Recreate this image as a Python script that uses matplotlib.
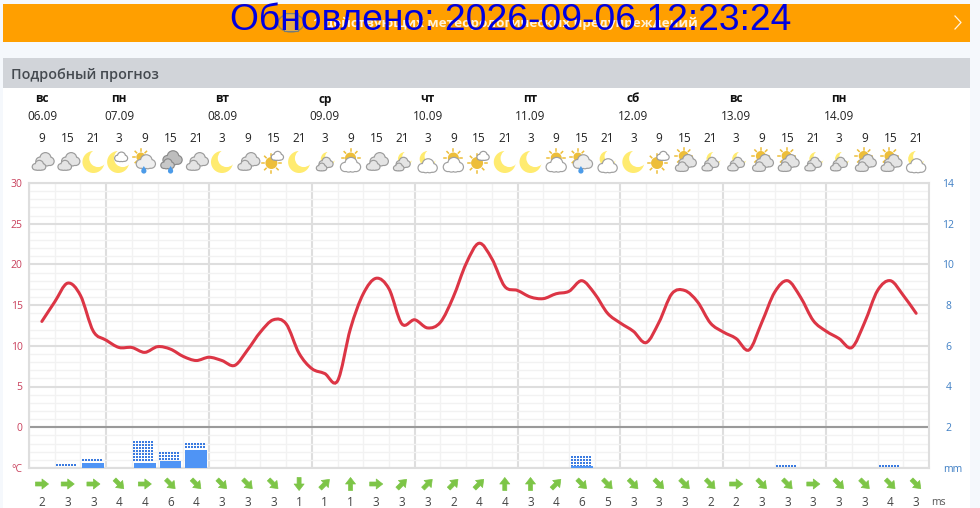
import matplotlib
matplotlib.use("Agg")
import matplotlib.pyplot as plt
import numpy as np
from matplotlib.patches import Circle, Rectangle, Polygon, PathPatch, Ellipse
from matplotlib.path import Path

# temperature every 3 hours, starting at 9h on 06.09
temps = [13.0, 15.4, 17.7, 16.2, 11.8, 10.7, 9.8, 9.8, 9.2, 9.9, 9.6, 8.7, 8.2, 8.6, 8.2, 7.6, 9.5, 11.7,
         13.2, 12.7, 9.1, 7.2, 6.6, 5.7, 12.1, 16.4, 18.3, 17.0, 12.7, 13.2, 12.2, 12.9, 16.0, 20.1, 22.6,
         20.7, 17.3, 16.8, 16.0, 15.8, 16.4, 16.7, 18.0, 16.4, 14.0, 12.8, 11.8, 10.4, 12.9, 16.4, 16.8,
         15.4, 12.8, 11.7, 10.9, 9.5, 12.9, 16.6, 18.0, 16.0, 13.1, 11.8, 10.9, 9.8, 12.9, 16.8, 18.0,
         16.2, 14.0]

hours = [9, 15, 21, 3, 9, 15, 21, 3, 9, 15, 21, 3, 9, 15, 21, 3, 9, 15, 21, 3, 9, 15, 21, 3, 9, 15, 21, 3, 9,
         15, 21, 3, 9, 15, 21]
wind_speed = [2, 3, 3, 4, 4, 6, 4, 3, 3, 3, 1, 1, 1, 3, 3, 3, 2, 4, 4, 3, 4, 6, 5, 3, 3, 3, 2, 2, 3, 3, 3, 3, 3, 4, 3]
wind_dir = ['E', 'E', 'E', 'SE', 'E', 'SE', 'SE', 'SE', 'SE', 'SE', 'S', 'NE', 'N', 'E', 'NE', 'NE', 'NE', 'NE',
            'N', 'N', 'NE', 'SE', 'SE', 'SE', 'SE', 'SE', 'SE', 'E', 'SE', 'SE', 'E', 'SE', 'SE', 'SE', 'SE']
icons = ['cloudy', 'cloudy', 'moon', 'moon_small', 'sun_rain', 'dark_rain', 'cloudy', 'moon', 'cloudy', 'sun_small',
         'moon', 'moon_clouds', 'sun_cloud', 'cloudy', 'moon_clouds', 'moon_cloud', 'sun_cloud', 'sun_small',
         'moon', 'moon', 'sun_cloud', 'sun_rain', 'moon_cloud', 'moon', 'sun_small', 'sun_clouds', 'moon_clouds',
         'moon_clouds', 'sun_clouds', 'sun_clouds', 'moon_clouds', 'moon_clouds', 'sun_clouds', 'sun_clouds',
         'moon_cloud']

day_names = ['вс', 'пн', 'вт', 'ср', 'чт', 'пт', 'сб', 'вс', 'пн']
day_dates = ['06.09', '07.09', '08.09', '09.09', '10.09', '11.09', '12.09', '13.09', '14.09']
day_index = [0, 3, 7, 11, 15, 19, 23, 27, 31]

# precipitation, by 6h slot
rain_index = [1, 2, 4, 5, 6, 21, 29, 33]
rain_solid = [0.0, 0.25, 0.25, 0.33, 0.88, 0.08, 0.0, 0.0]
rain_dotted = [0.15, 0.4, 1.3, 0.72, 1.17, 0.55, 0.1, 0.1]

left_ticks = [30, 25, 20, 15, 10, 5, 0]
right_ticks = [14, 12, 10, 8, 6, 4, 2]

X0 = 42
STEP = 25.71
CRIMSON = '#C9405C'
BLUE = '#3F7FC4'
GRID = '#DEDEDE'
MINOR = '#F2F2F2'
ARROW = {'E': 0, 'NE': 45, 'N': 90, 'S': -90, 'SE': -45}

plt.rcParams['font.family'] = ['Open Sans', 'DejaVu Sans']
fig = plt.figure(figsize=(9.8, 5.08), dpi=100, facecolor='#F5F8FC')

# page furniture, in pixels
bg = fig.add_axes([0, 0, 1, 1], zorder=0)
bg.set_xlim(0, 980)
bg.set_ylim(508, 0)
bg.axis('off')
bg.add_patch(Rectangle((3, 88), 967, 420, fc='white', ec='none'))
bg.add_patch(Rectangle((3, 4), 967, 38, fc='#FF9F00', ec='none'))
bg.add_patch(Rectangle((3, 58), 967, 30, fc='#D1D4D9', ec='none'))
bg.text(11, 74.5, 'Подробный прогноз', fontsize=10.4, fontweight='semibold', color='#454A50', va='center')

# chart
ax = fig.add_axes([29 / 980, 1 - 468 / 508, 900 / 980, 285 / 508], zorder=1)
ax.patch.set_alpha(0)
ax.set_xlim(-0.5, 34.5)
ax.set_ylim(-5, 30)
ax.set_xticks(np.arange(2.5, 34, 4))
ax.set_xticks(np.arange(-0.5, 34.5, 1), minor=True)
ax.set_yticks(np.arange(-5, 31, 5))
ax.set_yticks(np.arange(-5, 31, 1), minor=True)
ax.grid(which='minor', color=MINOR, lw=1)
ax.grid(which='major', color=GRID, lw=1.5)
ax.set_axisbelow(True)
ax.tick_params(which='both', length=0, labelbottom=False, labelleft=False)
for s in ax.spines.values():
    s.set_color(GRID)
    s.set_linewidth(1.5)
ax.axhline(0, color='#9A9A9A', lw=1.5, zorder=1.5)

for t in left_ticks:
    ax.annotate(str(t), (0, t), xycoords=ax.get_yaxis_transform(), xytext=(-4.5, -1), textcoords='offset points',
                ha='right', va='center', fontsize=7.5, color=CRIMSON)
ax.annotate('°C', (0, -5), xycoords=ax.get_yaxis_transform(), xytext=(-4.5, -1), textcoords='offset points',
            ha='right', va='center', fontsize=7.5, color=CRIMSON)

# precipitation on the right scale
ax2 = ax.twinx()
ax2.set_ylim(0, 14)
ax2.set_yticks([])
for s in ax2.spines.values():
    s.set_visible(False)
ax2.bar(rain_index, rain_solid, width=0.85, color='#4F94F5', lw=0, zorder=3)
dot_dx = 3 / STEP
dot_dy = 3 / (285 / 14)
for i, low, high in zip(rain_index, rain_solid, rain_dotted):
    gx = np.arange(i - 0.4, i + 0.41, dot_dx)
    gy = np.arange(high, low + 0.02, -dot_dy)
    mx, my = np.meshgrid(gx, gy)
    ax2.scatter(mx.ravel(), my.ravel(), s=0.6, marker='s', color='#3B7BE0', lw=0, zorder=2)
for t in right_ticks:
    ax2.annotate(str(t), (1, t), xycoords=ax2.get_yaxis_transform(), xytext=(14, -1), textcoords='offset points',
                 ha='center', va='center', fontsize=7.5, color=BLUE)
ax2.annotate('mm', (1, 0), xycoords=ax2.get_yaxis_transform(), xytext=(17, -1), textcoords='offset points',
             ha='center', va='center', fontsize=7.5, color=BLUE)

# smooth temperature curve through the readings
tx = np.arange(len(temps)) / 2
ty = np.array(temps)
slopes = np.gradient(ty, tx)
verts = [(tx[0], ty[0])]
codes = [Path.MOVETO]
for i in range(len(tx) - 1):
    h = (tx[i + 1] - tx[i]) / 3
    verts += [(tx[i] + h, ty[i] + slopes[i] * h), (tx[i + 1] - h, ty[i + 1] - slopes[i + 1] * h), (tx[i + 1], ty[i + 1])]
    codes += [Path.CURVE4] * 3
ax2.add_patch(PathPatch(Path(verts, codes), transform=ax.transData, fc='none', ec='#DC3545', lw=2.2, capstyle='round', zorder=5))

# overlay for the rows above and below the chart
top = fig.add_axes([0, 0, 1, 1], zorder=3)
top.set_xlim(0, 980)
top.set_ylim(508, 0)
top.axis('off')
top.patch.set_alpha(0)


def cloud(cx, cy, s, fc='#F1F1F1', ec='#A0A0A0', z=5):
    parts = [(-5.5, 2.0, 4.0), (0.5, -1.5, 5.5), (5.5, 2.0, 4.0), (-2, 2.5, 4.0), (2, 2.5, 4.0)]
    for lay, col in ((1.2, ec), (0, fc)):
        for dx, dy, r in parts:
            top.add_patch(Circle((cx + dx * s, cy + dy * s), r * s + lay, fc=col, ec='none', zorder=z + (lay == 0) * 0.5))


def clouds(cx, cy, s=1.0, fc='#E4E4E4', ec='#9C9C9C'):
    cloud(cx + 3 * s, cy - 2.5 * s, 0.9 * s, fc, ec, 5)
    cloud(cx - 3 * s, cy + 3.5 * s, 0.65 * s, fc, ec, 6)


def moon(cx, cy, r, z=4):
    top.add_patch(Circle((cx, cy), r, fc='#FFEB70', ec='none', zorder=z))
    top.add_patch(Circle((cx + r * 0.42, cy - r * 0.34), r * 0.8, fc='white', ec='none', zorder=z + 0.1))


def sun(cx, cy, r, z=4):
    for a in np.arange(0, 360, 45):
        d = np.radians(a)
        top.plot([cx + (r + 1.5) * np.cos(d), cx + (r + 3.5) * np.cos(d)],
                 [cy + (r + 1.5) * np.sin(d), cy + (r + 3.5) * np.sin(d)], color='#EDBE3A', lw=1.1, zorder=z)
    top.add_patch(Circle((cx, cy), r, fc='#EDBE3A', ec='none', zorder=z))


def drop(cx, cy):
    top.add_patch(Circle((cx, cy + 1), 2.6, fc='#4C9BE8', ec='none', zorder=8))
    top.add_patch(Polygon([(cx - 2.4, cy), (cx + 2.4, cy), (cx, cy - 4)], fc='#4C9BE8', ec='none', zorder=8))


def weather_icon(kind, cx, cy):
    if kind == 'cloudy':
        clouds(cx, cy)
    elif kind == 'moon':
        moon(cx, cy, 11)
    elif kind == 'moon_small':
        moon(cx - 1, cy, 11)
        cloud(cx + 2, cy - 5, 0.62, fc='white', ec='#9C9C9C')
    elif kind == 'sun_rain':
        sun(cx - 4, cy - 5, 4.5)
        cloud(cx + 1, cy, 0.95, fc='#EFEFEF')
        drop(cx - 1, cy + 8)
    elif kind == 'dark_rain':
        cloud(cx + 2, cy - 4, 0.95, fc='#BDBDBD', ec='#8A8A8A')
        cloud(cx - 3, cy + 2, 0.65, fc='#C8C8C8', ec='#8A8A8A', z=6)
        drop(cx, cy + 8)
    elif kind == 'sun_small':
        sun(cx - 2, cy + 1, 6)
        cloud(cx + 4, cy - 6, 0.58, fc='white', ec='#9C9C9C')
    elif kind == 'sun_cloud':
        sun(cx, cy - 4, 5.5)
        cloud(cx, cy + 3, 1.0, fc='white', ec='#A0A0A0')
    elif kind == 'sun_clouds':
        sun(cx - 1, cy - 6, 5)
        clouds(cx, cy + 1.5, 0.95)
    elif kind == 'moon_clouds':
        moon(cx + 3, cy - 3, 7)
        clouds(cx - 1, cy + 2.5, 0.75)
    elif kind == 'moon_cloud':
        moon(cx, cy - 3, 8)
        cloud(cx, cy + 4, 0.95, fc='white', ec='#A0A0A0')


# banner content
top.add_patch(Ellipse((291, 23), 26, 18, fc='none', ec='#55708F', lw=1, alpha=0.6))
top.add_patch(Rectangle((284, 13), 14, 18, fc='#D9B56A', ec='#55708F', lw=0.8, alpha=0.7))
top.text(505, 23, '1 действующих метеорологических предупреждений', fontsize=9.7, fontweight='bold', color='#FFF2DA',
         ha='center', va='center', zorder=1)
top.text(510.5, 21, 'Обновлено: 2026-09-06 12:23:24', fontsize=26.8, color='#0000E0', family='Liberation Sans',
         ha='center', va='center', zorder=10)
top.plot([955, 961, 955], [16, 22.5, 29], color='#FFF4E0', lw=0.9)

for i, name, date in zip(day_index, day_names, day_dates):
    x = X0 + STEP * i
    top.text(x, 99, name, fontsize=8.5, fontweight='bold', color='#111111', ha='center', va='center')
    top.text(x, 117, date, fontsize=8.5, color='#222222', ha='center', va='center')

for i, h in enumerate(hours):
    x = X0 + STEP * i
    top.text(x, 138, str(h), fontsize=8.5, color='#222222', ha='center', va='center')
    weather_icon(icons[i], x, 162)

# wind
arrow_shape = np.array([[-6.5, -2], [0, -2], [0, -5], [6.5, 0], [0, 5], [0, 2], [-6.5, 2]])
for i, (v, d) in enumerate(zip(wind_speed, wind_dir)):
    x = X0 + STEP * i
    a = np.radians(ARROW[d])
    rot = np.array([[np.cos(a), np.sin(a)], [-np.sin(a), np.cos(a)]])
    top.add_patch(Polygon(arrow_shape @ rot.T + [x, 484], fc='#7DC547', ec='#7DC547', lw=0.5, joinstyle='round'))
    top.text(x, 502, str(v), fontsize=8.5, color='#444444', ha='center', va='center')
top.text(938, 502.5, 'ms', fontsize=7.5, color='#555555', ha='center', va='center')

fig.savefig('out.png', dpi=100, facecolor=fig.get_facecolor())
